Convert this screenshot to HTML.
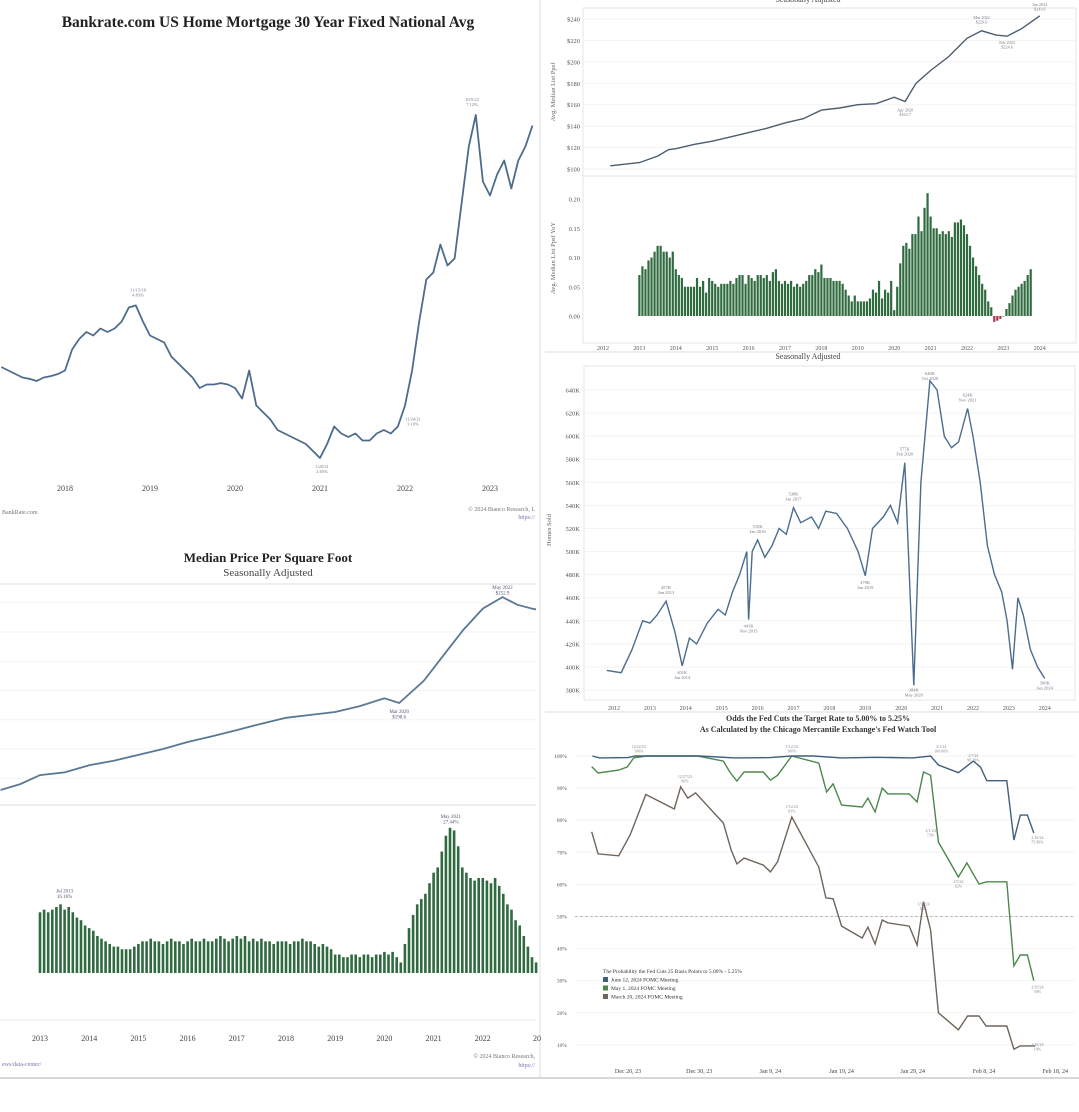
<!DOCTYPE html>
<html><head><meta charset="utf-8"><style>
html,body{margin:0;padding:0;background:#fff;}
svg{display:block;font-family:"Liberation Serif",serif;}
</style></head><body>
<svg id="s" width="1079" height="1112" viewBox="0 0 1079 1112">
<defs><clipPath id="leftclip"><rect x="0" y="0" width="536" height="1112"/></clipPath></defs>
<rect width="1079" height="1112" fill="#fff"/>
<line x1="540" y1="0" x2="540" y2="1078" stroke="#ddd" stroke-width="1"/>
<line x1="0" y1="1078" x2="1079" y2="1078" stroke="#ccc" stroke-width="1.5"/>
<line x1="545" y1="352" x2="1079" y2="352" stroke="#ddd"/>
<line x1="545" y1="712" x2="1079" y2="712" stroke="#ddd"/>
<text x="268" y="27" font-size="15.5" font-weight="bold" text-anchor="middle" fill="#222">Bankrate.com US Home Mortgage 30 Year Fixed National Avg</text>
<text x="2" y="514" font-size="6" fill="#777">BankRate.com</text>
<text x="535" y="511" font-size="6" fill="#777" text-anchor="end">© 2024 Bianco Research, L</text>
<text x="535" y="519" font-size="6" fill="#77a" text-anchor="end">https://</text>
<text x="268" y="562" font-size="13" font-weight="bold" text-anchor="middle" fill="#222">Median Price Per Square Foot</text>
<text x="268" y="576" font-size="11" text-anchor="middle" fill="#444">Seasonally Adjusted</text>
<text x="535" y="1058" font-size="6" fill="#777" text-anchor="end">© 2024 Bianco Research,</text>
<text x="535" y="1067" font-size="6" fill="#77a" text-anchor="end">https://</text>
<text x="2" y="1066" font-size="6" fill="#77a">ews/data-center/</text>
<text x="808" y="2" font-size="8" text-anchor="middle" fill="#444">Seasonally Adjusted</text>
<text x="808" y="359" font-size="8" text-anchor="middle" fill="#444">Seasonally Adjusted</text>
<text x="818" y="721" font-size="8" font-weight="bold" text-anchor="middle" fill="#333">Odds the Fed Cuts the Target Rate to 5.00% to 5.25%</text>
<text x="818" y="732" font-size="8" font-weight="bold" text-anchor="middle" fill="#333">As Calculated by the Chicago Mercantile Exchange's Fed Watch Tool</text>
<g id="g"></g>
</svg>
<script>
const mortValues=[3.95,3.9,3.85,3.8,3.78,3.75,3.8,3.82,3.85,
3.9,4.2,4.35,4.45,4.4,4.5,4.45,4.5,4.6,4.8,4.83,4.6,
4.4,4.35,4.3,4.1,4.0,3.9,3.8,3.65,3.7,3.7,3.72,3.7,
3.65,3.5,3.9,3.4,3.3,3.2,3.05,3.0,2.95,2.9,2.85,2.75,
2.65,2.85,3.1,3.0,2.95,3.0,2.9,2.9,3.0,3.05,3.0,3.1,
3.4,3.9,4.6,5.2,5.3,5.7,5.4,5.5,6.3,7.1,7.55,6.6,
6.4,6.7,6.9,6.5,6.9,7.1,7.4];
const mortYearLabels=[2018,2019,2020,2021,2022,2023];
const listYears=[2012.2,2013.0,2013.5,2013.8,2014.0,2014.5,2015.0,2015.5,2016.0,2016.5,2017.0,2017.5,2018.0,2018.5,2019.0,2019.5,2020.0,2020.3,2020.6,2021.0,2021.5,2022.0,2022.4,2022.8,2023.1,2023.5,2024.0];
const listValues=[103,106,112,118,119,123,126,130,134,138,143,147,155,157,160,161,167,163,180,192,205,222,229,225,224,231,243];
const listTicks=[100,120,140,160,180,200,220,240];
const yoyValues=[.07,.085,.08,.095,.10,.11,.12,.12,.11,.11,.10,.11,
.08,.07,.065,.05,.05,.05,.05,.065,.05,.06,.04,.065,
.06,.055,.05,.055,.055,.055,.06,.055,.065,.07,.07,.055,
.07,.065,.06,.07,.07,.065,.07,.06,.075,.08,.06,.055,
.06,.055,.06,.05,.055,.05,.055,.06,.07,.07,.08,.075,
.088,.065,.065,.065,.06,.06,.06,.055,.045,.035,.025,.035,
.025,.025,.025,.025,.03,.045,.04,.06,.03,.045,.04,.06,
.01,.05,.09,.12,.125,.115,.14,.14,.17,.145,.185,.21,
.17,.15,.15,.14,.145,.14,.145,.135,.16,.16,.165,.155,
.14,.12,.10,.085,.07,.055,.045,.025,.015,-.01,-.008,-.005,
.0,.012,.022,.035,.045,.05,.055,.06,.07,.08];
const yoyTicks=[0,0.05,0.10,0.15,0.20];
const yearTicksRight=[2012,2013,2014,2015,2016,2017,2018,2019,2020,2021,2022,2023,2024];
const homesYears=[2011.8,2012.2,2012.5,2012.8,2013.0,2013.2,2013.45,2013.7,2013.9,2014.1,2014.3,2014.6,2014.9,2015.1,2015.3,2015.5,2015.7,2015.75,2015.85,2016.0,2016.2,2016.4,2016.6,2016.8,2017.0,2017.2,2017.5,2017.7,2017.9,2018.2,2018.5,2018.8,2019.0,2019.2,2019.5,2019.7,2019.9,2020.1,2020.2,2020.35,2020.55,2020.8,2021.0,2021.2,2021.4,2021.6,2021.85,2022.0,2022.2,2022.4,2022.6,2022.8,2022.95,2023.1,2023.25,2023.4,2023.6,2023.8,2024.0];
const homesValues=[397,395,415,440,438,445,457,430,401,425,420,438,450,445,465,480,500,441,500,510,495,505,520,515,538,525,530,520,535,533,520,500,479,520,530,540,525,577,500,384,560,648,640,600,590,595,624,600,560,505,480,465,440,398,460,445,415,400,390];
const homesTicks=[380,400,420,440,460,480,500,520,540,560,580,600,620,640];
const ppsfYears=[2012.2,2012.6,2013.0,2013.5,2014.0,2014.5,2015.0,2015.5,2016.0,2016.5,2017.0,2017.5,2018.0,2018.5,2019.0,2019.5,2020.0,2020.3,2020.8,2021.2,2021.6,2022.0,2022.4,2022.7,2023.0,2023.2];
const ppsfValues=[154,157,161.6,163,166.7,169,172,175,178.6,181.5,184.7,188,191,192.5,194,197,201,198.6,210,223,236,247,252.9,249,247,246];
const ppsfYoy=[.115,.12,.115,.12,.125,.13,.12,.125,.115,.105,.1,.09,
.085,.08,.07,.065,.06,.055,.05,.05,.045,.045,.045,.05,
.055,.06,.06,.065,.06,.06,.055,.06,.065,.06,.06,.055,
.06,.065,.06,.06,.065,.06,.06,.065,.07,.065,.06,.065,
.07,.065,.07,.06,.065,.06,.065,.06,.06,.055,.06,.06,
.06,.055,.06,.06,.065,.06,.06,.055,.05,.055,.05,.045,
.035,.035,.03,.03,.035,.035,.03,.035,.035,.03,.035,.035,
.04,.035,.04,.03,.02,.055,.085,.11,.13,.14,.15,.17,
.19,.2,.23,.26,.275,.27,.24,.2,.19,.18,.175,.18,
.18,.175,.17,.18,.165,.15,.13,.12,.1,.09,.07,.05,
.03,.02];
const ppsfYearLabels=[2013,2014,2015,2016,2017,2018,2019,2020,2021,2022];
const juneDays=[-5,-4,0,1,5,10,15,20,23,26,30,35,40,42.5,43.6,46.4,48.5,49.5,50.4,53.2,54.2,55.1,56.1,57];
const juneValues=[100,99.4,99.5,100,100,100,99.4,99.5,100,100,99.4,99.6,99.4,100,97.2,94.8,98.4,96.6,92.3,92.3,73.8,81.6,81.6,76];
const mayDays=[-5.1,-4.2,-1.3,-0.1,0.8,2.6,9.7,13.4,14.3,15.3,16.3,19,20,21,23,26.8,27.9,28.8,30,32.9,33.7,34.7,35.7,36.5,39.5,40.6,41.5,42.5,43.6,46.4,47.6,49.3,50.4,53.2,54.2,55.1,56.1,57];
const mayValues=[96.7,94.7,95.6,96.6,99.4,100,100,98.4,95,92.2,95,95,92.5,94,100,97.8,88.8,91.3,84.7,84.1,86.9,82.6,90,88.2,88.2,85.7,95,94,73.2,62.3,66.7,60.1,60.8,60.8,34.6,38,38,30];
const marDays=[-5.1,-4.2,-1.3,0.3,2.5,6.5,7.4,8.4,9.5,13.4,14.5,15.3,16.3,19,20,21,23,26.8,27.8,28.8,30,32.9,33.7,34.7,35.7,36.5,39.5,40.6,41.5,42.5,43.6,46.4,47.7,49.3,50.3,53.2,54.2,55.1,57.2];
const marValues=[76.4,69.5,68.9,75.4,88,83.5,90.4,86.9,88.5,79.1,70.7,66.4,68.2,66,63.9,67,81,65.4,55.8,55.5,47,43.3,46.7,41.4,48.9,48,47,41.1,54.6,45.8,20,14.7,19,19,15.9,15.9,8.7,9.7,9.7];
const fedTicks=[10,20,30,40,50,60,70,80,90,100];
const fedDateLabels=["Dec 20, 23","Dec 30, 23","Jan 9, 24","Jan 19, 24","Jan 29, 24","Feb 8, 24","Feb 18, 24"];
const fedDateDays=[0,10,20,30,40,50,60];

const NS="http://www.w3.org/2000/svg";
const G=document.getElementById('g');
function mk(tag,attrs,parent){const e=document.createElementNS(NS,tag);for(const k in attrs)e.setAttribute(k,attrs[k]);(parent||G).appendChild(e);return e;}
function txt(x,y,s,size,anchor,fill,parent){const t=mk('text',{x:x,y:y,'font-size':size,'text-anchor':anchor||'start',fill:fill||'#555'},parent);t.textContent=s;return t;}
function pathD(xs,ys){return xs.map((x,i)=>(i?'L':'M')+x.toFixed(1)+','+ys[i].toFixed(1)).join('');}

// Mortgage
const xM=yr=>65+(yr-2018)*85, yM=v=>458-(v-2.65)*70;
mortYearLabels.forEach(y=>{const t=txt(xM(y),491,String(y),8,'middle','#444');

});
{const xs=mortValues.map((v,i)=>xM(2017+(3+i)/12)), ys=mortValues.map(yM);
const p=mk('path',{d:pathD(xs,ys),fill:'none',stroke:'#4d6c8c','stroke-width':1.8,'stroke-linejoin':'round'});

}
[[138,4.83,'11/15/18','4.83%',-14],[322,2.65,'1/20/21','2.65%',10],[472,7.55,'10/5/22','7.12%',-14],[413,3.1,'11/24/21','3.10%',-6]].forEach(a=>{
const t1=txt(a[0],yM(a[1])+a[4],a[2],4.5,'middle','#778');
const t2=txt(a[0],yM(a[1])+a[4]+5,a[3],4.5,'middle','#778');});

// Top right list ppsf
const xB=yr=>603+(yr-2012)*36.4, yB=v=>169-(v-100)*1.071, yB2=v=>316-v*585;
mk('rect',{x:583,y:8,width:493,height:168,fill:'none',stroke:'#e4e4e4'});
mk('rect',{x:583,y:176,width:493,height:167,fill:'none',stroke:'#e4e4e4'});
listTicks.forEach(v=>{const l=mk('line',{x1:583,x2:1075,y1:yB(v),y2:yB(v),stroke:'#f3f3f3'});


const t=txt(580,yB(v)+2.5,'$'+v,6.5,'end','#555');

});
{const t=mk('text',{x:0,y:0,'font-size':6.5,fill:'#666','text-anchor':'middle',transform:'translate(555,92) rotate(-90)'});t.textContent='Avg. Median List Ppsf';

}
{const p=mk('path',{d:pathD(listYears.map(xB),listValues.map(yB)),fill:'none',stroke:'#4c5d6e','stroke-width':1.4});

}
yoyTicks.forEach(v=>{const t=txt(580,yB2(v)+2.5,v.toFixed(2),6.5,'end','#555');

});
{const t=mk('text',{x:0,y:0,'font-size':6.5,fill:'#666','text-anchor':'middle',transform:'translate(555,258) rotate(-90)'});t.textContent='Avg. Median List Ppsf YoY';

}
yoyValues.forEach((v,i)=>{const x=xB(2013+i/12);const y0=yB2(0),y1=yB2(v);
const r=mk('rect',{x:x-1.1,y:Math.min(y0,y1),width:2.2,height:Math.max(0.5,Math.abs(y1-y0)),fill:v<0?'#b0304a':'#2f6b3f'});

});
yearTicksRight.forEach(y=>{const t=txt(xB(y),350,String(y),6,'middle','#555');

});
[[2020.3,163,'Apr 2020','$163.7',10],[2022.4,229,'Mar 2022','$229.6',-12],[2023.1,224,'Feb 2023','$224.6',8],[2024,243,'Jan 2024','$243.6',-10]].forEach(a=>{
const t1=txt(xB(a[0]),yB(a[1])+a[4],a[2],4.2,'middle','#778');
const t2=txt(xB(a[0]),yB(a[1])+a[4]+4.5,a[3],4.2,'middle','#778');});

// Homes sold
const xC=yr=>614+(yr-2012)*35.9, yC=v=>390-(v-640)*1.154;
mk('rect',{x:584,y:366,width:491,height:334,fill:'none',stroke:'#e4e4e4'});
homesTicks.forEach(v=>{const l=mk('line',{x1:584,x2:1075,y1:yC(v),y2:yC(v),stroke:'#f3f3f3'});


const t=txt(580,yC(v)+2.5,v+'K',6.5,'end','#555');

});
{const t=mk('text',{x:0,y:0,'font-size':6.5,fill:'#666','text-anchor':'middle',transform:'translate(551,530) rotate(-90)'});t.textContent='Homes Sold';

}
yearTicksRight.forEach(y=>{const t=txt(xC(y),710,String(y),6,'middle','#555');

});
{const p=mk('path',{d:pathD(homesYears.map(xC),homesValues.map(yC)),fill:'none',stroke:'#4a6d8f','stroke-width':1.4});

}
[[2013.45,457,'Jun 2013','457K',-12],[2013.9,401,'Jan 2014','401K',8],[2015.75,441,'Nov 2015','441K',8],[2016,510,'Jan 2016','510K',-12],[2017,538,'Jan 2017','538K',-12],[2019,479,'Jan 2019','479K',8],[2020.1,577,'Feb 2020','577K',-12],[2020.35,384,'May 2020','384K',6],[2020.8,648,'Oct 2020','648K',-6],[2021.85,624,'Nov 2021','624K',-12],[2024,390,'Jan 2024','390K',6]].forEach(a=>{
const t1=txt(xC(a[0]),yC(a[1])+a[4],a[3],4.5,'middle','#778');
const t2=txt(xC(a[0]),yC(a[1])+a[4]+5,a[2],4.5,'middle','#778');});

// Median ppsf bottom-left
const xD=yr=>40+(yr-2013)*49.2, yD=v=>703-(v-198.6)*1.95, yD2=v=>973-v*528;
mk('line',{x1:0,x2:536,y1:584,y2:584,stroke:'#ddd'});
mk('line',{x1:0,x2:536,y1:805,y2:805,stroke:'#ddd'});
mk('line',{x1:0,x2:536,y1:1020,y2:1020,stroke:'#e6e6e6'});
for(let v=160;v<=250;v+=15){const l=mk('line',{x1:0,x2:536,y1:yD(v),y2:yD(v),stroke:'#f3f3f3'});

}
{const p=mk('path',{d:pathD(ppsfYears.map(xD),ppsfValues.map(yD)),fill:'none',stroke:'#5a7893','stroke-width':1.8,'clip-path':'url(#leftclip)'});

}
ppsfYoy.forEach((v,i)=>{const x=xD(2013+i/12);
const r=mk('rect',{x:x-1.3,y:yD2(v),width:2.6,height:v*528,fill:'#2f6b3f'});

});
ppsfYearLabels.forEach(y=>{const t=txt(xD(y),1041,String(y),8,'middle','#444');

});
{const t=txt(533,1041,'20',8,'start','#444');}
[[xD(2020.3),yD(198.6)+10,'Mar 2020','$198.6'],[xD(2022.4),yD(252.9)-8,'May 2022','$252.9'],[xD(2013.5),yD2(0.13)-12,'Jul 2013','16.16%'],[xD(2021.35),yD2(0.275)-10,'May 2021','27.44%']].forEach(a=>{
const t1=txt(a[0],a[1],a[2],5,'middle','#557');
const t2=txt(a[0],a[1]+5.5,a[3],5,'middle','#557');});

// Fed watch
const xE=d=>628+d*7.12, yE=v=>756+(100-v)*3.21;
fedTicks.forEach(v=>{const l=mk('line',{x1:575,x2:1075,y1:yE(v),y2:yE(v),stroke:'#f3f3f3'});


const t=txt(567,yE(v)+2,v+'%',5.5,'end','#555');

});
{const l=mk('line',{x1:575,x2:1075,y1:yE(50),y2:yE(50),stroke:'#bbb','stroke-dasharray':'3,2'});

}
fedDateLabels.forEach((s,i)=>{const t=txt(xE(fedDateDays[i]),1073,s,6,'middle','#444');

});
{const p=mk('path',{d:pathD(marDays.map(xE),marValues.map(yE)),fill:'none',stroke:'#6f655a','stroke-width':1.4});

}
{const p=mk('path',{d:pathD(mayDays.map(xE),mayValues.map(yE)),fill:'none',stroke:'#4d874c','stroke-width':1.4});

}
{const p=mk('path',{d:pathD(juneDays.map(xE),juneValues.map(yE)),fill:'none',stroke:'#3f5f7e','stroke-width':1.4});

}
{const t=txt(603,973,'The Probability the Fed Cuts 25 Basis Points to 5.00% - 5.25%',5.5,'start','#333');

}
[['June 12, 2024 FOMC Meeting','#3f5f7e'],['May 1, 2024 FOMC Meeting','#4d874c'],['March 20, 2024 FOMC Meeting','#6f655a']].forEach((e,i)=>{
const r=mk('rect',{x:603,y:977+i*8.5,width:5,height:5,fill:e[1]});


const t=txt(611,981.5+i*8.5,e[0],5.5,'start','#333');

});
[[1.5,100,'12/22/23','100%',-8],[8,90.4,'12/27/23','90%',-9],[23,81,'1/12/24','81%',-9],[23,100,'1/12/24','100%',-8],[44,100,'2/1/24','100.00%',-8],[41.5,54.6,'1/31/24','54%',4],[48.5,98.4,'2/7/24','98.39%',-4],[57.5,76,'2/16/24','75.90%',6],[57.5,30,'2/16/24','30%',8],[57.5,9.7,'2/16/24','10%',0],[42.5,73.2,'2/1/24','73%',-10],[46.4,62.3,'2/5/24','62%',6]].forEach(a=>{
const t1=txt(xE(a[0]),yE(a[1])+a[4],a[2],4,'middle','#889');
const t2=txt(xE(a[0]),yE(a[1])+a[4]+4.5,a[3],4,'middle','#889');});
</script>
</body></html>
